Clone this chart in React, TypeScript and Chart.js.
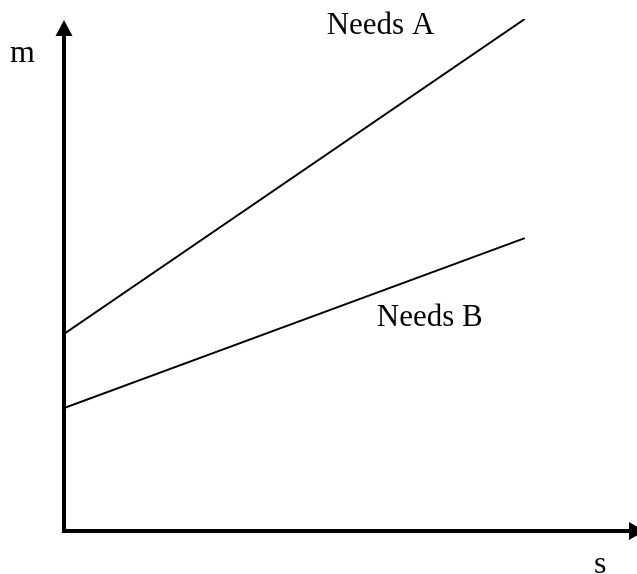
import React, { useEffect, useRef } from "react";
import { Chart, registerables } from "chart.js";

Chart.register(...registerables);

// Data (s on x, m on y)
const sValues = [0, 8];
const needsA = [3.85, 10];
const needsB = [2.4, 5.72];
const seriesNames = ["Needs A", "Needs B"];
const axisNames = ["s", "m"];
const xRange = [0, 10];
const yRange = [0, 10];

const FONT = '"Liberation Serif", "Times New Roman", serif';

const axesPlugin = {
  id: "arrowAxes",
  afterDatasetsDraw(chart: any) {
    const { ctx } = chart;
    const xs = chart.scales.x;
    const ys = chart.scales.y;
    const x0 = xs.getPixelForValue(xRange[0]);
    const y0 = ys.getPixelForValue(yRange[0]);
    const yTop = ys.getPixelForValue(yRange[1]) + 1;
    const xEnd = xs.getPixelForValue(xRange[1]) + 5;
    ctx.save();
    ctx.strokeStyle = "#000";
    ctx.fillStyle = "#000";
    ctx.lineWidth = 4;
    ctx.lineCap = "butt";
    // y axis
    ctx.beginPath();
    ctx.moveTo(x0, y0 + 2);
    ctx.lineTo(x0, yTop + 10);
    ctx.stroke();
    // x axis
    ctx.beginPath();
    ctx.moveTo(x0 - 2, y0);
    ctx.lineTo(xEnd - 10, y0);
    ctx.stroke();
    // arrow heads
    ctx.beginPath();
    ctx.moveTo(x0, yTop);
    ctx.lineTo(x0 - 8.5, yTop + 16);
    ctx.lineTo(x0 + 8.5, yTop + 16);
    ctx.closePath();
    ctx.fill();
    ctx.beginPath();
    ctx.moveTo(xEnd, y0);
    ctx.lineTo(xEnd - 16, y0 - 9);
    ctx.lineTo(xEnd - 16, y0 + 9);
    ctx.closePath();
    ctx.fill();

    // labels
    ctx.textAlign = "left";
    ctx.textBaseline = "alphabetic";
    ctx.font = `31px ${FONT}`;
    ctx.fillText(seriesNames[0], xs.getPixelForValue(4.56), ys.getPixelForValue(9.7));
    ctx.fillText(seriesNames[1], xs.getPixelForValue(5.43), ys.getPixelForValue(4.0));
    ctx.font = `32px ${FONT}`;
    ctx.fillText(axisNames[1], 10, ys.getPixelForValue(9.16));
    ctx.fillText(axisNames[0], 594, y0 + 42);
    ctx.restore();
  },
};

export default function App() {
  const ref = useRef<HTMLCanvasElement>(null);
  useEffect(() => {
    if (!ref.current) return;
    const chart = new Chart(ref.current, {
      type: "scatter",
      data: {
        datasets: [
          {
            label: seriesNames[0],
            data: sValues.map((s, i) => ({ x: s, y: needsA[i] })),
            showLine: true,
            borderColor: "#000",
            borderWidth: 2,
            pointRadius: 0,
            fill: false,
          },
          {
            label: seriesNames[1],
            data: sValues.map((s, i) => ({ x: s, y: needsB[i] })),
            showLine: true,
            borderColor: "#000",
            borderWidth: 2,
            pointRadius: 0,
            fill: false,
          },
        ],
      },
      options: {
        responsive: false,
        animation: false,
        layout: { padding: { left: 64, right: 0, top: 19, bottom: 43 } },
        plugins: { legend: { display: false }, tooltip: { enabled: false } },
        scales: {
          x: { type: "linear", min: xRange[0], max: xRange[1], display: false },
          y: { type: "linear", min: yRange[0], max: yRange[1], display: false },
        },
      },
      plugins: [axesPlugin],
    });
    return () => chart.destroy();
  }, []);
  return (
    <div style={{ position: "fixed", left: 0, top: 0, width: 637, height: 574, overflow: "hidden", background: "#fff" }}>
      <canvas ref={ref} width={640} height={574} style={{ display: "block" }} />
    </div>
  );
}
